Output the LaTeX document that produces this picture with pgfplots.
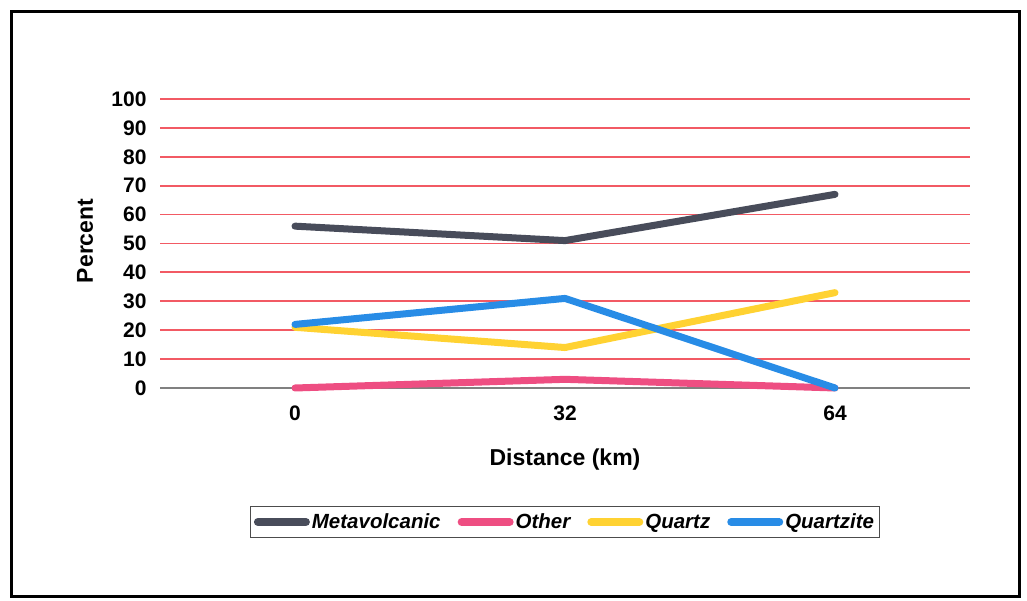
\documentclass[border=0pt]{standalone}
\usepackage{pgfplots}
\pgfplotsset{compat=1.18}
\usepackage{fontspec}
\setmainfont{Liberation Sans}
\definecolor{metac}{RGB}{72,76,90}
\definecolor{otherc}{RGB}{238,78,130}
\definecolor{quartzc}{RGB}{255,210,50}
\definecolor{quartzitec}{RGB}{40,140,230}
\definecolor{gridc}{RGB}{242,90,100}
\begin{document}
\begin{tikzpicture}[x=1pt,y=1pt]
\path[use as bounding box] (0,0) rectangle (1027,601);
\draw[line width=3pt] (11,4) rectangle (1019,589);
\begin{axis}[
  at={(160pt,213pt)}, anchor=south west,
  scale only axis, width=810pt, height=289pt,
  xmin=-0.5, xmax=2.5, ymin=0, ymax=100,
  clip=false,
  xtick={0,1,2}, xticklabels={0,32,64},
  ytick={10,20,...,100},
  extra y ticks={0}, extra y tick style={grid=none},
  ymajorgrids, grid style={gridc, line width=1.8pt},
  axis x line*=bottom, axis y line*=left,
  x axis line style={gray, line width=1.2pt, -},
  y axis line style={draw=none},
  major tick length=0pt,
  /pgf/number format/assume math mode=true,
  tick label style={font=\bfseries\fontsize{21}{21}\selectfont},
  xticklabel style={yshift=-14pt},
  yticklabel style={xshift=-10pt},
  xlabel={Distance (km)}, ylabel={Percent},
  label style={font=\bfseries\fontsize{23}{23}\selectfont},
  xlabel style={at={(axis description cs:0.5,-0.249)}, anchor=center},
  ylabel style={at={(axis description cs:-0.0926,0.509)}, anchor=center, rotate=0},
  legend columns=4,
  legend image code/.code={\draw[#1, line width=8pt, line cap=round] (0pt,0pt) -- (48pt,0pt);},
  legend style={at={(0.5,-0.4637)}, anchor=center, draw=black!70, line width=1pt,
    font=\bfseries\itshape\fontsize{20.5}{20.5}\selectfont,
    inner xsep=3pt, inner ysep=5pt,
    /tikz/every even column/.append style={column sep=15pt},
    /tikz/every odd column/.append style={column sep=0pt}},
  every axis plot/.append style={line width=7pt, line cap=round, line join=round},
]
\addplot[metac] coordinates {(0,56) (1,51) (2,67)};
\addlegendentry{Metavolcanic}
\addplot[otherc] coordinates {(0,0) (1,3) (2,0)};
\addlegendentry{Other}
\addplot[quartzc] coordinates {(0,21) (1,14) (2,33)};
\addlegendentry{Quartz}
\addplot[quartzitec] coordinates {(0,22) (1,31) (2,0)};
\addlegendentry{Quartzite}
\end{axis}
\end{tikzpicture}
\end{document}
